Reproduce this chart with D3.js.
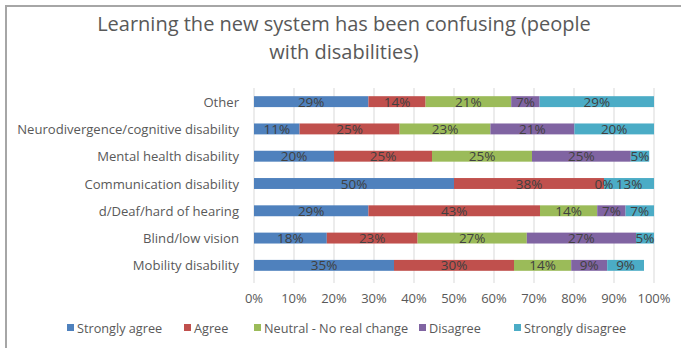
<!DOCTYPE html>
<html>
<head>
<meta charset="utf-8">
<script src="https://cdn.jsdelivr.net/npm/d3@7"></script>
<style>
  body { margin: 0; background: #fff; }
  svg text { font-family: "Open Sans", sans-serif; fill: #595959; }
</style>
</head>
<body>
<svg width="681" height="348"></svg>
<script>
const categories = ["Other", "Neurodivergence/cognitive disability", "Mental health disability",
    "Communication disability", "d/Deaf/hard of hearing", "Blind/low vision", "Mobility disability"]
const series = ["Strongly agree", "Agree", "Neutral - No real change", "Disagree", "Strongly disagree"]
const colors = ["#4F81BD", "#C0504D", "#9BBB59", "#8064A2", "#4BACC6"]

// values per category, in series order (fractions)
const stronglyAgree = [0.286, 0.114, 0.20, 0.50, 0.286, 0.182, 0.35]
const agree = [0.143, 0.25, 0.245, 0.375, 0.429, 0.227, 0.30]
const neutral = [0.214, 0.227, 0.25, 0, 0.143, 0.273, 0.143]
const disagree = [0.071, 0.21, 0.247, null, 0.071, 0.273, 0.09]
const stronglyDisagree = [0.286, 0.199, 0.046, 0.125, 0.071, 0.045, 0.092]
const ticks = [0, .1, .2, .3, .4, .5, .6, .7, .8, .9, 1]

const cols = [stronglyAgree, agree, neutral, disagree, stronglyDisagree]
const rows = categories.map((c, i) => {
    let r = { cat: c }
    series.forEach((s, j) => r[s] = cols[j][i] || 0)
    return r
})
const stacked = d3.stack().keys(series)(rows)

const svg = d3.select("svg")

// chart frame
svg.append("path")
    .attr("d", "M6,350 V6 H684")
    .attr("fill", "none")
    .attr("stroke", "#a6a6a6")
    .attr("stroke-width", 2)

svg.append("text")
    .attr("x", 344).attr("y", 31)
    .attr("text-anchor", "middle")
    .style("font-size", "20px")
    .text("Learning the new system has been confusing (people")
svg.append("text")
    .attr("x", 344).attr("y", 59)
    .attr("text-anchor", "middle")
    .style("font-size", "20px")
    .text("with disabilities)")

const x = d3.scaleLinear().domain([0, 1]).range([254, 654])
const y = d3.scaleBand().domain(categories).range([88, 279]).paddingInner(0.6).paddingOuter(0.3)

svg.append("g")
    .selectAll("line")
    .data(ticks)
    .enter()
    .append("line")
    .attr("x1", d => x(d)).attr("x2", d => x(d))
    .attr("y1", 88).attr("y2", 283)
    .attr("stroke", "#d9d9d9")

svg.append("g")
    .selectAll("text")
    .data(ticks)
    .enter()
    .append("text")
    .attr("x", d => x(d))
    .attr("y", 303)
    .attr("text-anchor", "middle")
    .style("font-size", "13px")
    .text(d => d3.format(".0%")(d))

svg.append("g")
    .selectAll("text")
    .data(categories)
    .enter()
    .append("text")
    .attr("x", 239)
    .attr("y", d => y(d) + y.bandwidth() / 2 + 5)
    .attr("text-anchor", "end")
    .style("font-size", "13.1px")
    .text(d => d)

const layers = svg.append("g")
    .selectAll("g")
    .data(stacked)
    .enter()
    .append("g")
    .attr("fill", (d, i) => colors[i])

layers.selectAll("rect")
    .data(d => d)
    .enter()
    .append("rect")
    .attr("x", d => x(d[0]))
    .attr("y", d => y(d.data.cat))
    .attr("width", d => x(d[1]) - x(d[0]))
    .attr("height", y.bandwidth())

// data labels on top of all bars
const labels = stacked.flatMap((s, i) => s.map((p, k) => ({ p, v: cols[i][k] }))).filter(o => o.v !== null)
svg.append("g")
    .selectAll("text")
    .data(labels)
    .enter()
    .append("text")
    .attr("x", d => (x(d.p[0]) + x(d.p[1])) / 2)
    .attr("y", d => y(d.p.data.cat) + y.bandwidth() / 2 + 5)
    .attr("text-anchor", "middle")
    .style("font-size", "13.5px")
    .style("fill", "#404040")
    .text(d => d3.format(".0%")(d.v))

// legend
const legend = svg.append("g")
    .selectAll("g")
    .data(series)
    .enter()
    .append("g")
    .attr("transform", (d, i) => `translate(${[67, 184, 254, 419, 514][i]},0)`)
legend.append("rect")
    .attr("y", 324).attr("width", 7).attr("height", 7)
    .attr("fill", (d, i) => colors[i])
legend.append("text")
    .attr("x", 10).attr("y", 333)
    .style("font-size", "12.7px")
    .text(d => d)
</script>
</body>
</html>
